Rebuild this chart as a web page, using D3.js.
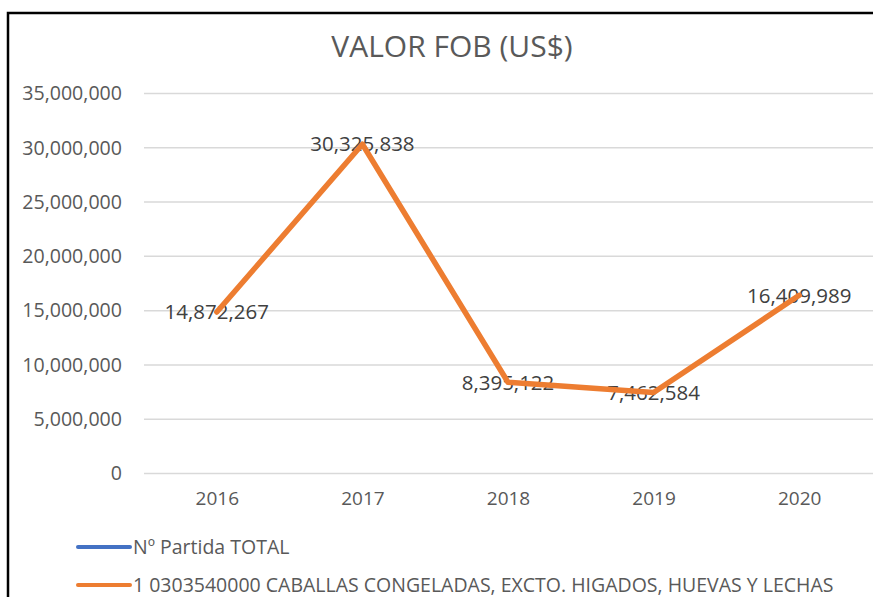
<!DOCTYPE html>
<html>
<head>
<meta charset="utf-8">
<script src="https://cdn.jsdelivr.net/npm/d3@7"></script>
<style>
  html, body { margin: 0; padding: 0; background: #fff; }
  svg { display: block; }
</style>
</head>
<body>
<svg id="chart" width="873" height="597"></svg>
<script>
const years = ["2016", "2017", "2018", "2019", "2020"];
const valorFob = [14872267, 30325838, 8395122, 7462584, 16409989];
const yTicks = [0, 5000000, 10000000, 15000000, 20000000, 25000000, 30000000, 35000000];
const legendItems = ["Nº Partida TOTAL", "1 0303540000 CABALLAS CONGELADAS, EXCTO. HIGADOS, HUEVAS Y LECHAS"];
const legendColors = ["#4472C4", "#ED7D31"];

const width = 873, height = 597;
const font = "'Open Sans', 'Noto Sans', sans-serif";
const svg = d3.select("#chart");

// chart frame
svg.append("rect")
  .attr("x", 8).attr("y", 13)
  .attr("width", 900).attr("height", 700)
  .attr("fill", "#fff")
  .attr("stroke", "#000")
  .attr("stroke-width", 2.5);

svg.append("text")
  .attr("x", 452).attr("y", 57)
  .attr("text-anchor", "middle")
  .attr("font-family", font)
  .attr("font-size", 30)
  .attr("fill", "#595959")
  .text("VALOR FOB (US$)");

const x = d3.scalePoint().domain(years).range([144, 872]).padding(0.5);
const y = d3.scaleLinear().domain([0, 35000000]).range([473.5, 93.5]);

// gridlines
svg.append("g")
  .selectAll("line")
  .data(yTicks)
  .enter()
  .append("line")
  .attr("x1", 144).attr("x2", 873)
  .attr("y1", d => y(d)).attr("y2", d => y(d))
  .attr("stroke", "#d9d9d9")
  .attr("stroke-width", 1.5);

const yAxis = svg.append("g")
  .attr("transform", "translate(128,0)")
  .call(d3.axisLeft(y).tickValues(yTicks).tickFormat(d3.format(",")).tickSize(0).tickPadding(6));
yAxis.select(".domain").remove();
yAxis.selectAll("text")
  .attr("font-family", font)
  .attr("font-size", 19.6)
  .attr("fill", "#595959");

const xAxis = svg.append("g")
  .attr("transform", "translate(0,473.5)")
  .call(d3.axisBottom(x).tickSize(0).tickPadding(18));
xAxis.select(".domain").remove();
xAxis.selectAll("text")
  .attr("font-family", font)
  .attr("font-size", 19)
  .attr("fill", "#595959");

// data labels (under the line, as in the reference)
svg.append("g")
  .selectAll("text")
  .data(valorFob)
  .enter()
  .append("text")
  .attr("x", (d, i) => x(years[i]))
  .attr("y", d => y(d))
  .attr("dy", "0.35em")
  .attr("text-anchor", "middle")
  .attr("font-family", font)
  .attr("font-size", 20.5)
  .attr("fill", "#404040")
  .text(d => d3.format(",")(d));

const line = d3.line()
  .x((d, i) => x(years[i]))
  .y(d => y(d));

svg.append("path")
  .datum(valorFob)
  .attr("d", line)
  .attr("fill", "none")
  .attr("stroke", "#ED7D31")
  .attr("stroke-width", 5.5)
  .attr("stroke-linejoin", "round")
  .attr("stroke-linecap", "round");

// legend
const legend = svg.append("g")
  .selectAll("g")
  .data(legendItems)
  .enter()
  .append("g")
  .attr("transform", (d, i) => `translate(78,${547 + i * 38})`);
legend.append("line")
  .attr("x1", 0).attr("x2", 52)
  .attr("stroke", (d, i) => legendColors[i])
  .attr("stroke-width", 4)
  .attr("stroke-linecap", "round");
legend.append("text")
  .attr("x", 55)
  .attr("dy", "0.35em")
  .attr("font-family", font)
  .attr("font-size", 19.5)
  .attr("fill", "#595959")
  .text(d => d);
</script>
</body>
</html>
